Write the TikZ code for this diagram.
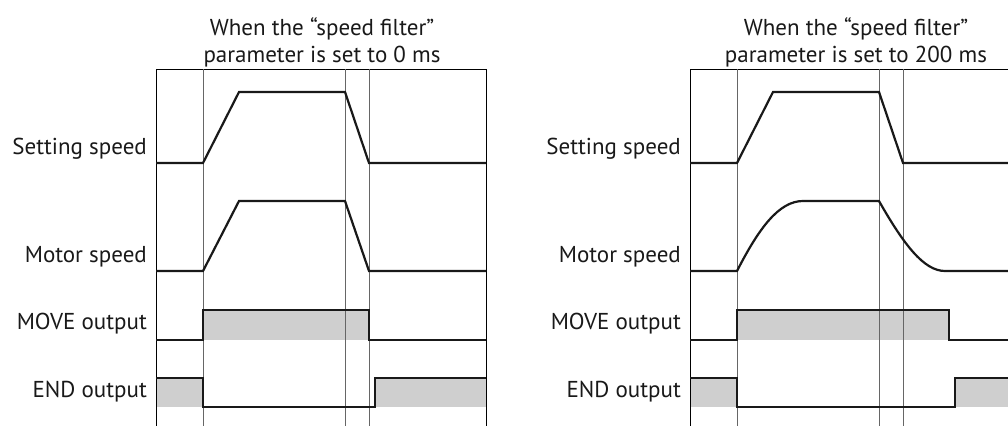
\documentclass[tikz,border=0pt]{standalone}
\usepackage{fontspec}
\setmainfont{PT Sans}
\usetikzlibrary{calc}
\colorlet{wave}{black!90}
\colorlet{lowfill}{black!19}
\colorlet{gridc}{black!60}
\tikzstyle{signal}=[wave,line width=2.2pt]

\begin{document}
\begin{tikzpicture}[x=1pt,y=-1pt,
    frame/.style={black,line width=0.9pt},
    timeline/.style={gridc,line width=0.8pt},
    signame/.style={anchor=east,inner sep=0pt,text=black!90,font=\fontsize{23}{26}\selectfont},
    heading/.style={align=center,inner sep=0pt,text=black!90,font=\fontsize{23}{27}\selectfont}
  ]
  
  \def\yT{69}    % frame top
  \def\yB{426}   % frame bottom
  \def\xL{156}   % frame left
  \def\sH{92}    \def\sL{163}  % setting speed levels
  \def\mH{201}   \def\mL{271}  % motor speed levels
  \def\oH{310}   \def\oL{340}  % MOVE output levels
  \def\eH{378}   \def\eL{407}  % END output levels
  \def\tA{203}   % start
  \def\tB{239}   % end of acceleration
  \def\tC{345}   % start of deceleration
  \def\tD{369}   % end of deceleration
  
  \useasboundingbox (0,0) rectangle (1008,426);
  
  \foreach \dx/\xe/\tE/\tF/\ms [count=\i] in {0/486/369/375/0,534/474/415/421/200}{
    \begin{scope}[xshift=\dx]
      % SHADE
      \fill[lowfill] (\tA,\oH) rectangle (\tE,\oL);
      \fill[lowfill] (\xL,\eH) rectangle (\tA,\eL);
      \fill[lowfill] (\tF,\eH) rectangle (\xe,\eL);
      
      % FRAME
      \draw[frame] (\xe,\yT) -- (\xL,\yT) -- (\xL,\yB);
      \ifnum\i=1 \draw[frame] (\xe,\yT) -- (\xe,\yB); \fi
      \foreach \x in {\tA,\tC,\tD}
        \draw[timeline] (\x,\yT) -- (\x,\yB);
      
      % TITLES AND NAMES
      \node[heading] (title\i) at (322,42) {When the “speed filter”\\parameter is set to \ms\ ms};
      \node[signame] (set\i)  at (147,149) {Setting speed};
      \node[signame] (mot\i)  at (147,257) {Motor speed};
      \node[signame] (move\i) at (147,324) {MOVE output};
      \node[signame] (end\i)  at (147,392) {END output};
      
      % SIGNALS
      \draw[signal] (\xL,\sL) -- (\tA,\sL) -- (\tB,\sH) -- (\tC,\sH) -- (\tD,\sL) -- (\xe,\sL);
      \ifnum\ms=0
        \draw[signal] (\xL,\mL) -- (\tA,\mL) -- (\tB,\mH) -- (\tC,\mH) -- (\tD,\mL) -- (\xe,\mL);
      \else
        \draw[signal] (\xL,\mL) -- (\tA,\mL) .. controls (225,228) and (245,\mH) .. (269,\mH)
          -- (\tC,\mH) .. controls (370,245) and (390,\mL) .. (411,\mL) -- (\xe,\mL);
      \fi
      \draw[signal] (\xL,\oL) -- (\tA,\oL) -- (\tA,\oH) -- (\tE,\oH) -- (\tE,\oL) -- (\xe,\oL);
      \draw[signal] (\xL,\eH) -- (\tA,\eH) -- (\tA,\eL) -- (\tF,\eL) -- (\tF,\eH) -- (\xe,\eH);
    \end{scope}
  }
  
\end{tikzpicture}
\end{document}
